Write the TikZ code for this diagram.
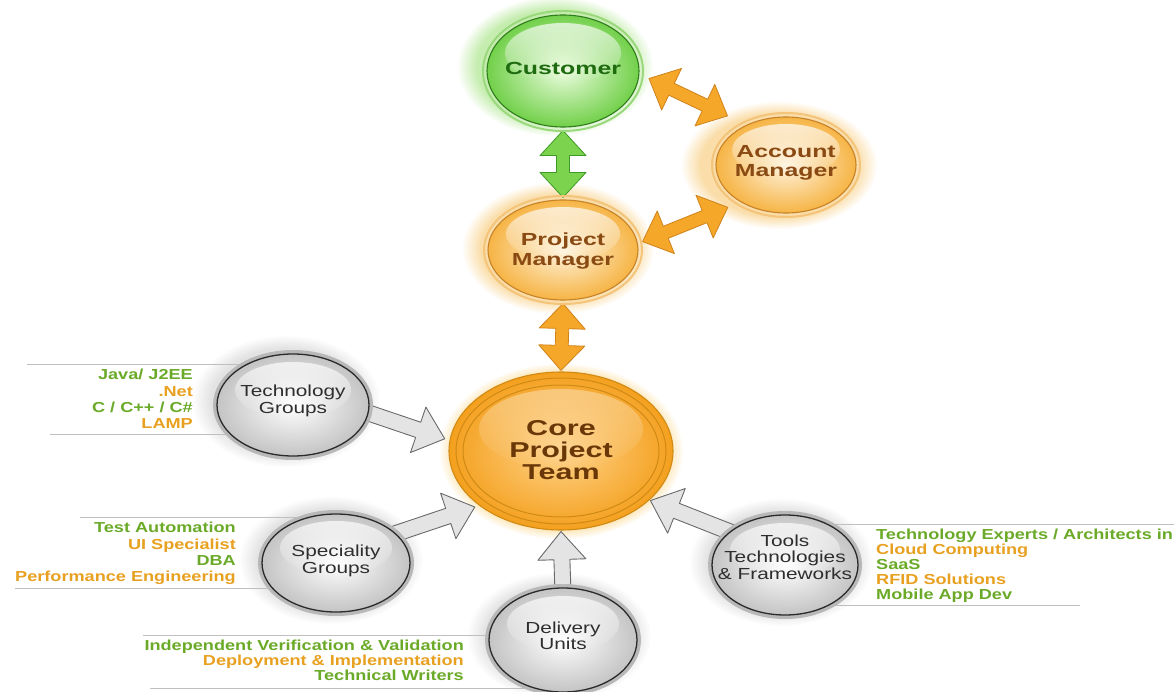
\documentclass[tikz,border=0pt]{standalone}
\usepackage{fontspec}
\setmainfont{Liberation Sans}
\newfontfamily\listfont{Liberation Sans}[FakeStretch=1.25]
\newfontfamily\bubfont{Liberation Sans}[FakeStretch=1.42]
\newfontfamily\grayfont{Liberation Sans}[FakeStretch=1.3]
\usetikzlibrary{shapes.geometric,calc,fadings}
\pgfdeclarelayer{bg}
\pgfdeclarelayer{arr}
\pgfsetlayers{bg,arr,main}
\tikzfading[name=hilite, top color=transparent!30, bottom color=transparent!100]
\tikzfading[name=hilitesoft, top color=transparent!65, bottom color=transparent!100]

\definecolor{lgreen}{HTML}{6BAA28}
\definecolor{lorange}{HTML}{E8A020}
\definecolor{custtxt}{HTML}{1E6B10}
\definecolor{brtxt}{HTML}{8A4A14}
\definecolor{coretxt}{HTML}{6A3808}
\definecolor{graytxt}{HTML}{2E2E2E}
\definecolor{cfillin}{HTML}{EAFCDD}
\definecolor{cfillout}{HTML}{72D04A}
\definecolor{cring}{HTML}{2F7D1C}
\definecolor{cring2}{HTML}{9AD87C}
\definecolor{cglow}{HTML}{C6EDB0}
\definecolor{ofillin}{HTML}{FFF4DE}
\definecolor{ofillout}{HTML}{F6B445}
\definecolor{oring}{HTML}{C7832A}
\definecolor{oring2}{HTML}{F3C47A}
\definecolor{oglow}{HTML}{FADDA8}
\definecolor{kfillin}{HTML}{FFD38A}
\definecolor{kfillout}{HTML}{F4A01E}
\definecolor{kring}{HTML}{D08A14}
\definecolor{kglow}{HTML}{FBD27C}
\definecolor{gfillout}{HTML}{C4C4C4}
\definecolor{gring}{HTML}{2A2A2A}
\definecolor{gband}{HTML}{B8B8B8}
\definecolor{gglow}{HTML}{E3E3E3}
\definecolor{aoran}{HTML}{F5A72A}
\definecolor{aorane}{HTML}{D0821A}
\definecolor{agreen}{HTML}{7CD34E}
\definecolor{agreene}{HTML}{3E9A26}
\definecolor{agray}{HTML}{E4E4E4}
\definecolor{agraye}{HTML}{6A6A6A}

\tikzset{
  bub/.style={ellipse, inner sep=0pt, line width=1.1pt},
  bublbl/.style={align=center, inner sep=0pt, font=\bubfont\bfseries\fontsize{17.5}{19.5}\selectfont},
  corelbl/.style={align=center, inner sep=0pt, text=coretxt, font=\bubfont\bfseries\fontsize{21.5}{22}\selectfont},
  graylbl/.style={align=center, inner sep=0pt, text=graytxt, font=\grayfont\fontsize{16}{16.3}\selectfont},
  listtxt/.style={inner sep=0pt, font=\listfont\bfseries\fontsize{14.5}{16.3}\selectfont},
  listline/.style={draw=gray!50, line width=0.9pt},
  glow/.style={path fading=circle with fuzzy edge 20 percent},
  hl/.style={fill=white, path fading=hilite},
  hlsoft/.style={fill=white, path fading=hilitesoft},
  arrdims/.code args={#1/#2/#3}{\def\arrW{#1}\def\arrH{#2}\def\arrL{#3}},
  dblarr/.style={to path={
     -- ($(\tikztostart)!\arrL!(\tikztotarget)!\arrH!90:(\tikztotarget)$)
     -- ($(\tikztostart)!\arrL!(\tikztotarget)!\arrW!90:(\tikztotarget)$)
     -- ($(\tikztotarget)!\arrL!(\tikztostart)!\arrW!-90:(\tikztostart)$)
     -- ($(\tikztotarget)!\arrL!(\tikztostart)!\arrH!-90:(\tikztostart)$)
     -- (\tikztotarget)
     -- ($(\tikztotarget)!\arrL!(\tikztostart)!\arrH!90:(\tikztostart)$)
     -- ($(\tikztotarget)!\arrL!(\tikztostart)!\arrW!90:(\tikztostart)$)
     -- ($(\tikztostart)!\arrL!(\tikztotarget)!\arrW!-90:(\tikztotarget)$)
     -- ($(\tikztostart)!\arrL!(\tikztotarget)!\arrH!-90:(\tikztotarget)$)
     -- cycle}},
  sglarr/.style={to path={
     ($(\tikztostart)!\arrW!90:(\tikztotarget)$)
     -- ($(\tikztotarget)!\arrL!(\tikztostart)!\arrW!-90:(\tikztostart)$)
     -- ($(\tikztotarget)!\arrL!(\tikztostart)!\arrH!-90:(\tikztostart)$)
     -- (\tikztotarget)
     -- ($(\tikztotarget)!\arrL!(\tikztostart)!\arrH!90:(\tikztostart)$)
     -- ($(\tikztotarget)!\arrL!(\tikztostart)!\arrW!90:(\tikztostart)$)
     -- ($(\tikztostart)!\arrW!-90:(\tikztotarget)$)
     -- cycle}},
  oarrow/.style={dblarr, arrdims=6.5pt/23pt/25pt, fill=aoran, draw=aorane, line width=0.8pt, line join=round},
  grarrow/.style={dblarr, arrdims=6.5pt/23pt/25pt, fill=agreen, draw=agreene, line width=0.8pt, line join=round},
  gyarrow/.style={sglarr, arrdims=8pt/24pt/28pt, fill=agray, draw=agraye, line width=0.9pt, line join=round},
}

\begin{document}
\begin{tikzpicture}[x=1pt,y=1pt]
\useasboundingbox (0,0) rectangle (1174,-692);

% centres
\coordinate (c-cust) at (563,-71);
\coordinate (c-am) at (786,-165);
\coordinate (c-pm) at (563,-250);
\coordinate (c-core) at (561,-451);
\coordinate (c-tech) at (293,-405);
\coordinate (c-spec) at (336,-563);
\coordinate (c-del) at (563,-640);
\coordinate (c-tools) at (785,-565);

% list line ends
\coordinate (lt1) at (27,-364);
\coordinate (lt2) at (50,-434);
\coordinate (ls1) at (80,-517);
\coordinate (ls2) at (15,-588);
\coordinate (ld1) at (143,-635);
\coordinate (ld2) at (150,-688);
\coordinate (lr1) at (1174,-524);
\coordinate (lr2) at (1080,-605);

\begin{pgfonlayer}{bg}
  \fill[cglow, glow] (555,-66) ellipse [x radius=98pt, y radius=70pt];
  \fill[oglow, glow] (779,-165) ellipse [x radius=98pt, y radius=64pt];
  \fill[oglow, glow] (558,-248) ellipse [x radius=96pt, y radius=66pt];
  \fill[kglow, glow] (561,-451) ellipse [x radius=122pt, y radius=88pt];
  \fill[gglow, glow] (286,-401) ellipse [x radius=94pt, y radius=66pt];
  \fill[gglow, glow] (331,-560) ellipse [x radius=92pt, y radius=64pt];
  \fill[gglow, glow] (559,-636) ellipse [x radius=92pt, y radius=64pt];
  \fill[gglow, glow] (781,-562) ellipse [x radius=92pt, y radius=64pt];
  \draw[listline] (lt1) -- (lt1 -| c-tech);
  \draw[listline] (lt2) -- (lt2 -| c-tech);
  \draw[listline] (ls1) -- (ls1 -| c-spec);
  \draw[listline] (ls2) -- (ls2 -| c-spec);
  \draw[listline] (ld1) -- (ld1 -| c-del);
  \draw[listline] (ld2) -- (ld2 -| c-del);
  \draw[listline] (lr1) -- (lr1 -| c-tools);
  \draw[listline] (lr2) -- (lr2 -| c-tools);
\end{pgfonlayer}

% outer rings
\draw[cring2, line width=2pt] (c-cust) ellipse [x radius=80pt, y radius=60pt];
\draw[oring2, line width=2pt] (c-am) ellipse [x radius=74pt, y radius=52pt];
\draw[oring2, line width=2pt] (c-pm) ellipse [x radius=79pt, y radius=54pt];
\draw[gband, line width=4pt] (c-tech) ellipse [x radius=78pt, y radius=53pt];
\draw[gband, line width=4pt] (c-spec) ellipse [x radius=76pt, y radius=51pt];
\draw[gband, line width=4pt] (c-del) ellipse [x radius=76pt, y radius=54pt];
\draw[gband, line width=4pt] (c-tools) ellipse [x radius=75pt, y radius=52pt];

% bubbles
\node[bub, minimum width=152pt, minimum height=112pt, inner color=cfillin, outer color=cfillout, draw=cring] (cust) at (c-cust) {};
\node[bub, minimum width=140pt, minimum height=96pt, inner color=ofillin, outer color=ofillout, draw=oring] (am) at (c-am) {};
\node[bub, minimum width=150pt, minimum height=100pt, inner color=ofillin, outer color=ofillout, draw=oring] (pm) at (c-pm) {};
\node[bub, minimum width=224pt, minimum height=158pt, inner color=kfillin, outer color=kfillout, draw=kring] (core) at (c-core) {};
\node[bub, minimum width=152pt, minimum height=102pt, inner color=white, outer color=gfillout, draw=gring, line width=1.3pt] (tech) at (c-tech) {};
\node[bub, minimum width=148pt, minimum height=98pt, inner color=white, outer color=gfillout, draw=gring, line width=1.3pt] (spec) at (c-spec) {};
\node[bub, minimum width=148pt, minimum height=104pt, inner color=white, outer color=gfillout, draw=gring, line width=1.3pt] (del) at (c-del) {};
\node[bub, minimum width=146pt, minimum height=100pt, inner color=white, outer color=gfillout, draw=gring, line width=1.3pt] (tools) at (c-tools) {};

% core inner rings
\draw[kring, line width=1pt] (core.center) ellipse [x radius=105pt, y radius=73pt];
\draw[kring, line width=1pt] (core.center) ellipse [x radius=98pt, y radius=66pt];

% highlights
\fill[hl] ($(cust.center)+(0,18)$) ellipse [x radius=58pt, y radius=30pt];
\fill[hl] ($(am.center)+(0,15)$) ellipse [x radius=54pt, y radius=26pt];
\fill[hl] ($(pm.center)+(0,16)$) ellipse [x radius=57pt, y radius=27pt];
\fill[hlsoft] ($(core.center)+(0,22)$) ellipse [x radius=82pt, y radius=40pt];
\fill[hl] ($(tech.center)+(0,15)$) ellipse [x radius=58pt, y radius=28pt];
\fill[hl] ($(spec.center)+(0,15)$) ellipse [x radius=56pt, y radius=27pt];
\fill[hl] ($(del.center)+(0,16)$) ellipse [x radius=56pt, y radius=28pt];
\fill[hl] ($(tools.center)+(0,15)$) ellipse [x radius=55pt, y radius=27pt];

% connector ends
\coordinate (e1a) at ($(cust.south)!-3pt!(cust.center)$);
\coordinate (e1b) at ($(pm.north)!-2pt!(pm.center)$);
\coordinate (e2a) at ($(cust.-5)!-10pt!(cust.center)$);
\coordinate (e2b) at ($(am.140)!-18pt!(am.center)$);
\coordinate (e3a) at ($(pm.6)!-5pt!(pm.center)$);
\coordinate (e3b) at ($(am.216)!-12pt!(am.center)$);
\coordinate (e4a) at ($(pm.south)!-3pt!(pm.center)$);
\coordinate (e4b) at ($(core.north)!-1pt!(core.center)$);
\coordinate (g1a) at ($(tech.-5)!6pt!(tech.center)$);
\coordinate (g1b) at ($(core.174)!-5pt!(core.center)$);
\coordinate (g2a) at ($(spec.27)!6pt!(spec.center)$);
\coordinate (g2b) at ($(core.213)!-4pt!(core.center)$);
\coordinate (g3a) at ($(del.north)!6pt!(del.center)$);
\coordinate (g3b) at ($(core.south)!-1pt!(core.center)$);
\coordinate (g4a) at ($(tools.148)!6pt!(tools.center)$);
\coordinate (g4b) at ($(core.-29)!-1pt!(core.center)$);

\begin{pgfonlayer}{arr}
  \draw[grarrow] (e1a) to (e1b);
  \draw[oarrow] (e2a) to (e2b);
  \draw[oarrow] (e3a) to (e3b);
  \draw[oarrow] (e4a) to (e4b);
  \draw[gyarrow] (g1a) to (g1b);
  \draw[gyarrow] (g2a) to (g2b);
  \draw[gyarrow] (g3a) to (g3b);
  \draw[gyarrow] (g4a) to (g4b);
\end{pgfonlayer}

% labels
\node[bublbl, text=custtxt] (cust-t) at ($(cust.center)+(0,3)$) {Customer};
\node[bublbl, text=brtxt] (am-t) at ($(am.center)+(0,2)$) {Account\\Manager};
\node[bublbl, text=brtxt] (pm-t) at ($(pm.center)+(0,-1)$) {Project\\Manager};
\node[corelbl] (core-t) at ($(core.center)+(0,1)$) {Core\\Project\\Team};
\node[graylbl] (tech-t) at ($(tech.center)+(0,4)$) {Technology\\Groups};
\node[graylbl] (spec-t) at ($(spec.center)+(0,2)$) {Speciality\\Groups};
\node[graylbl] (del-t) at ($(del.center)+(0,4)$) {Delivery\\Units};
\node[graylbl] (tools-t) at ($(tools.center)+(0,8)$) {Tools\\Technologies\\\& Frameworks};

% lists
\node[listtxt, anchor=north east, align=right] (tech-l) at (193,-369)
  {\textcolor{lgreen}{Java/ J2EE}\\\textcolor{lorange}{.Net}\\\textcolor{lgreen}{C / C++ / C\#}\\\textcolor{lorange}{LAMP}};
\node[listtxt, anchor=north east, align=right] (spec-l) at (236,-522)
  {\textcolor{lgreen}{Test Automation}\\\textcolor{lorange}{UI Specialist}\\\textcolor{lgreen}{DBA}\\\textcolor{lorange}{Performance Engineering}};
\node[listtxt, anchor=north east, align=right, font=\listfont\bfseries\fontsize{14.5}{15}\selectfont] (del-l) at (464,-640)
  {\textcolor{lgreen}{Independent Verification \& Validation}\\\textcolor{lorange}{Deployment \& Implementation}\\\textcolor{lgreen}{Technical Writers}};
\node[listtxt, anchor=north west, align=left, font=\listfont\bfseries\fontsize{14.5}{15}\selectfont] (tools-l) at (876,-529)
  {\textcolor{lgreen}{Technology Experts / Architects in}\\\textcolor{lorange}{Cloud Computing}\\\textcolor{lgreen}{SaaS}\\\textcolor{lorange}{RFID Solutions}\\\textcolor{lgreen}{Mobile App Dev}};
\end{tikzpicture}
\end{document}
